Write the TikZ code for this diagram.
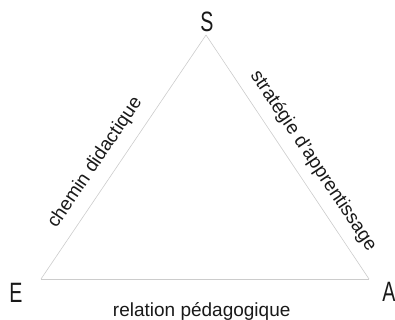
\documentclass[tikz,border=0pt]{standalone}
\usepackage{fontspec}
\setmainfont{Liberation Sans}
\newcommand{\etroit}[1]{\scalebox{0.7}[1]{#1}}
\begin{document}
\begin{tikzpicture}[x=1pt,y=-1pt]
	\tikzstyle{Sommet} = [inner sep=0pt, text=black!90, font=\fontsize{28}{28}\selectfont]
	\tikzstyle{Cote} = [draw=gray!40, line width=0.6pt]
	\tikzstyle{Etiquette} = [inner sep=0pt, text=black!90, font=\fontsize{19}{19}\selectfont, sloped]
	\useasboundingbox (0,0) rectangle (395,320);
	\coordinate (s) at (206,35);
	\coordinate (e) at (41,279);
	\coordinate (a) at (369,279);
	\node (S) at (207,22) [Sommet] {\etroit{S}};
	\node (E) at (16,293) [Sommet] {\etroit{E}};
	\node (A) at (389,292) [Sommet] {\etroit{A}};
	\draw [Cote] (e) to node [Etiquette, pos=0.43, above=11pt] {chemin didactique} (s);
	\draw [Cote] (s) to node [Etiquette, pos=0.56, above=10pt] {stratégie d'apprentissage} (a);
	\draw [Cote] (e) to node [Etiquette, pos=0.49, below=23pt] {relation pédagogique} (a);
\end{tikzpicture}
\end{document}
